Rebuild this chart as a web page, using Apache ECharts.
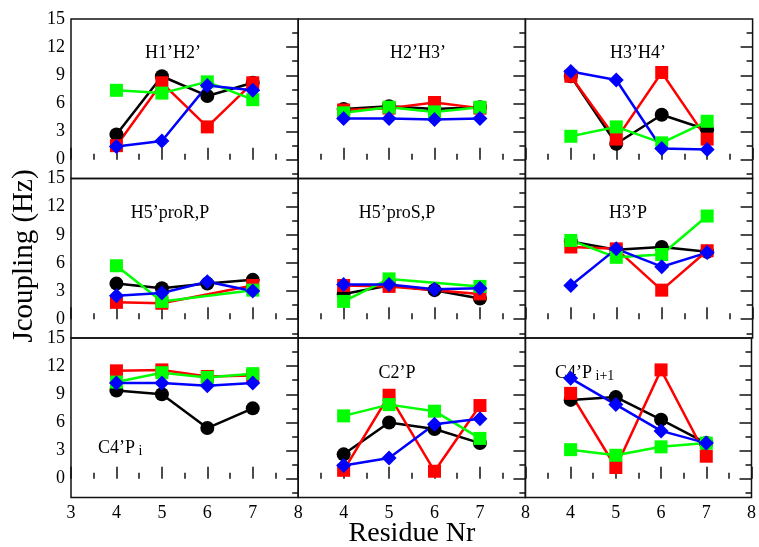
<!DOCTYPE html>
<html>
<head>
<meta charset="utf-8">
<script src="https://cdn.jsdelivr.net/npm/echarts@6/dist/echarts.min.js"></script>
<style>
  html, body { margin: 0; padding: 0; background: #fff; }
  #chart { width: 759px; height: 547px; }
</style>
</head>
<body>
<div id="chart"></div>
<script>
// Residue numbers on the x axis of every panel
const residues = [4, 5, 6, 7];

// Panel order: row by row, left to right
const panelNames = ["H1’H2’", "H2’H3’", "H3’H4’",
                    "H5’proR,P", "H5’proS,P", "H3’P",
                    "C4’P i", "C2’P", "C4’P i+1"];

// Coupling constants (Hz), one row per panel, values at residues 4..7
const blackSet = [
  [2.7, 8.9, 6.8, 8.2],
  [5.4, 5.7, 5.4, 5.6],
  [8.9, 1.7, 4.8, 3.2],
  [3.8, 3.3, 3.8, 4.2],
  [2.7, 3.6, 3.1, 2.2],
  [8.3, 7.4, 7.7, 7.2],
  [9.4, 9.0, 5.4, 7.5],
  [2.6, 6.0, 5.3, 3.8],
  [8.4, 8.7, 6.3, 3.8]
];
const redSet = [
  [1.5, 8.2, 3.5, 8.2],
  [5.3, 5.5, 6.1, 5.5],
  [8.9, 2.2, 9.3, 2.2],
  [1.8, 1.7, null, 3.6],
  [3.6, 3.5, null, 2.7],
  [7.7, 7.5, 3.1, 7.3],
  [11.5, 11.6, 10.9, 11.0],
  [0.9, 8.9, 0.8, 7.8],
  [9.1, 1.2, 11.6, 2.4]
];
const greenSet = [
  [7.4, 7.1, 8.3, 6.4],
  [5.0, 5.6, 5.1, 5.6],
  [2.5, 3.5, 1.8, 4.1],
  [5.7, 1.9, null, 3.1],
  [1.9, 4.3, null, 3.5],
  [8.4, 6.6, 6.9, 11.0],
  [10.3, 11.3, 10.8, 11.2],
  [6.7, 7.9, 7.2, 4.3],
  [3.1, 2.5, 3.4, 3.8]
];
const blueSet = [
  [1.4, 2.0, 7.9, 7.4],
  [4.4, 4.4, 4.3, 4.4],
  [9.4, 8.5, 1.2, 1.1],
  [2.5, 2.8, 4.0, 3.0],
  [3.7, 3.7, 3.2, 3.3],
  [3.6, 7.5, 5.6, 7.1],
  [10.2, 10.2, 9.9, 10.2],
  [1.4, 2.2, 5.8, 6.4],
  [10.7, 7.9, 5.1, 3.8]
];

// Axis tick values
const yLabelValues = [0, 3, 6, 9, 12, 15];
const yMajorTicks = [0, 3, 6, 9, 12];
const yMinorTicks = [-1.5, 1.5, 4.5, 7.5, 10.5, 13.5];

const FONT = "'Liberation Serif', 'DejaVu Serif', serif";
const GRID_LEFT = 71, GRID_TOP = 19, PANEL_W = 227.2, PANEL_H = 159.5;
const Y_MIN = -2, Y_MAX = 15;

const sets = [
  { data: blackSet, color: '#000000', symbol: 'circle',  size: 14 },
  { data: redSet,   color: '#ff0000', symbol: 'rect',    size: 13 },
  { data: greenSet, color: '#00ff00', symbol: 'rect',    size: 13 },
  { data: blueSet,  color: '#0000ff', symbol: 'diamond', size: 15 }
];

const grids = [], xAxes = [], yAxes = [], series = [];

for (let p = 0; p < 9; p++) {
  const row = Math.floor(p / 3), col = p % 3;
  grids.push({
    left: GRID_LEFT + col * PANEL_W,
    top: GRID_TOP + row * PANEL_H,
    width: PANEL_W,
    height: PANEL_H,
    show: true,
    borderColor: '#111',
    borderWidth: 1.5,
    backgroundColor: 'transparent',
    containLabel: false
  });

  xAxes.push({
    gridIndex: p,
    type: 'value',
    min: 3, max: 8, interval: 1,
    axisLine: { show: false },
    axisTick: { show: true, inside: true, length: 12, lineStyle: { color: '#111', width: 1.5 } },
    minorTick: { show: true, splitNumber: 2, length: 6, lineStyle: { color: '#111', width: 1.5 } },
    splitLine: { show: false },
    minorSplitLine: { show: false },
    axisLabel: {
      show: row === 2,
      showMinLabel: true, showMaxLabel: true,
      margin: 7,
      fontFamily: FONT, fontSize: 18, color: '#000',
      formatter: v => (col > 0 && v === 3) ? '' : String(v)
    }
  });

  // left axis: value labels only
  yAxes.push({
    gridIndex: p, type: 'value', position: 'left',
    min: Y_MIN, max: Y_MAX,
    axisLine: { show: false },
    axisTick: { show: false },
    splitLine: { show: false },
    axisLabel: {
      show: col === 0,
      customValues: yLabelValues,
      margin: 6,
      fontFamily: FONT, fontSize: 18, color: '#000'
    }
  });
  // right axis: major ticks pointing inward
  yAxes.push({
    gridIndex: p, type: 'value', position: 'right',
    min: Y_MIN, max: Y_MAX,
    axisLine: { show: false },
    axisTick: { show: true, inside: true, length: 12, customValues: yMajorTicks,
                lineStyle: { color: '#111', width: 1.5 } },
    splitLine: { show: false },
    axisLabel: { show: false }
  });
  // right axis: minor ticks pointing inward
  yAxes.push({
    gridIndex: p, type: 'value', position: 'right',
    min: Y_MIN, max: Y_MAX,
    axisLine: { show: false },
    axisTick: { show: true, inside: true, length: 6, customValues: yMinorTicks,
                lineStyle: { color: '#111', width: 1.5 } },
    splitLine: { show: false },
    axisLabel: { show: false }
  });

  sets.forEach(s => {
    series.push({
      type: 'line',
      xAxisIndex: p,
      yAxisIndex: p * 3,
      data: residues.map((r, i) => [r, s.data[p][i]]),
      connectNulls: true,
      symbol: s.symbol,
      symbolSize: s.size,
      showAllSymbol: true,
      lineStyle: { color: s.color, width: 2.5 },
      itemStyle: { color: s.color, borderWidth: 0 },
      emphasis: { disabled: true },
      silent: true
    });
  });
}

// Panel titles (centre positions) and axis names
const titlePos = [[173, 53], [418, 53], [638, 53],
                  [170, 213], [397, 213], [628, 213],
                  [null, 448], [397, 373], [null, 373]];

const graphics = [];
titlePos.forEach((pos, p) => {
  if (p === 6 || p === 8) return;
  graphics.push({
    type: 'text', x: pos[0], y: pos[1], silent: true,
    style: { text: panelNames[p], fill: '#000', font: '18px ' + FONT,
             align: 'center', verticalAlign: 'middle' }
  });
});
// panels with a subscripted index
graphics.push({
  type: 'text', x: 98, y: 448, silent: true,
  style: {
    text: '{m|C4’P}{s| i}', align: 'left', verticalAlign: 'middle',
    rich: {
      m: { fontFamily: FONT, fontSize: 18, fill: '#000' },
      s: { fontFamily: FONT, fontSize: 14, fill: '#000', padding: [6, 0, 0, 0] }
    }
  }
});
graphics.push({
  type: 'text', x: 555, y: 373, silent: true,
  style: {
    text: '{m|C4’P}{s| i+1}', align: 'left', verticalAlign: 'middle',
    rich: {
      m: { fontFamily: FONT, fontSize: 18, fill: '#000' },
      s: { fontFamily: FONT, fontSize: 14, fill: '#000', padding: [6, 0, 0, 0] }
    }
  }
});
graphics.push({
  type: 'text', x: 24, y: 256, rotation: Math.PI / 2, silent: true,
  style: { text: 'Jcoupling (Hz)', fill: '#000', font: '29px ' + FONT,
           align: 'center', verticalAlign: 'middle' }
});
graphics.push({
  type: 'text', x: 412, y: 534, silent: true,
  style: { text: 'Residue Nr', fill: '#000', font: '28px ' + FONT,
           align: 'center', verticalAlign: 'middle' }
});

const chart = echarts.init(document.getElementById('chart'), null, { renderer: 'canvas' });
chart.setOption({
  animation: false,
  backgroundColor: '#fff',
  grid: grids,
  xAxis: xAxes,
  yAxis: yAxes,
  series: series,
  graphic: graphics
});
</script>
</body>
</html>
